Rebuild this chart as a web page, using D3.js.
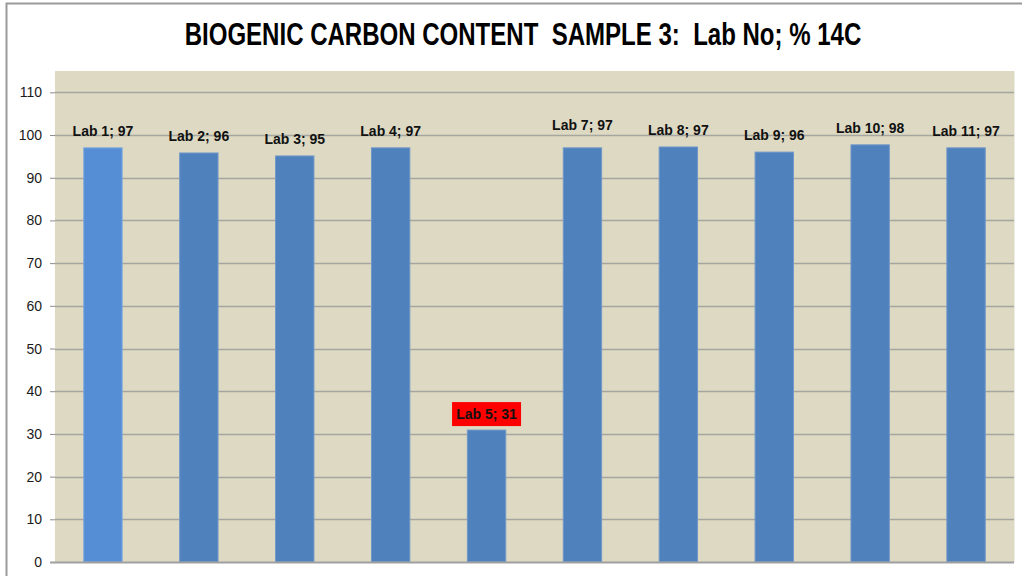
<!DOCTYPE html>
<html>
<head>
<meta charset="utf-8">
<script src="https://cdn.jsdelivr.net/npm/d3@7"></script>
<style>
  html, body { margin: 0; padding: 0; background: #ffffff; }
  svg { display: block; }
</style>
</head>
<body>
<script>
// ---- data ----
const labs = ["Lab 1", "Lab 2", "Lab 3", "Lab 4", "Lab 5", "Lab 7", "Lab 8", "Lab 9", "Lab 10", "Lab 11"];
const values = [97.0, 95.8, 95.1, 97.0, 30.9, 97.0, 97.2, 96.0, 97.7, 97.0];
const yTicks = [0, 10, 20, 30, 40, 50, 60, 70, 80, 90, 100, 110];
const titleText = "BIOGENIC CARBON CONTENT  SAMPLE 3:  Lab No; % 14C";
const outlierLab = "Lab 5";
const highlightLab = "Lab 1";

const W = 1022, H = 576;
const plot = { left: 55, top: 71, right: 1014, bottom: 562 };

const svg = d3.select("body").append("svg").attr("width", W).attr("height", H);

// chart border
svg.append("rect").attr("x", 6.5).attr("y", 3.5).attr("width", W + 20).attr("height", H + 20)
  .attr("fill", "#ffffff").attr("stroke", "#9a9a9a").attr("stroke-width", 2);

// plot background
svg.append("rect").attr("x", plot.left).attr("y", plot.top)
  .attr("width", plot.right - plot.left).attr("height", plot.bottom - plot.top)
  .attr("fill", "#ddd9c3");

const x = d3.scaleBand().domain(labs).range([plot.left, plot.right]).paddingInner(0.6).paddingOuter(0.3);
const y = d3.scaleLinear().domain([0, 115]).range([plot.bottom, plot.top]);

// gridlines
svg.append("g").selectAll("line").data(yTicks.filter(d => d > 0)).join("line")
  .attr("x1", plot.left).attr("x2", plot.right)
  .attr("y1", d => Math.round(y(d)) + 0.5).attr("y2", d => Math.round(y(d)) + 0.5)
  .attr("stroke", "#a6a6a0").attr("stroke-width", 1.3);

// y axis
const yAxis = d3.axisLeft(y).tickValues(yTicks).tickSize(5).tickPadding(8);
const gy = svg.append("g").attr("transform", `translate(${plot.left},0)`).call(yAxis);
gy.select(".domain").remove();
gy.selectAll(".tick line").attr("stroke", "#8c8c8c");
gy.attr("font-size", null).attr("font-family", null);
gy.selectAll(".tick text").attr("font-family", "Arial, 'Liberation Sans', sans-serif")
  .attr("font-size", 14).attr("fill", "#1a1a1a");

// bars
svg.append("g").selectAll("rect").data(labs).join("rect")
  .attr("x", d => x(d)).attr("width", x.bandwidth())
  .attr("y", (d, i) => y(values[i])).attr("height", (d, i) => y(0) - y(values[i]))
  .attr("fill", d => d === highlightLab ? "#558ed5" : "#4f81bd")
  .attr("stroke", d => d === highlightLab ? "#7ba7dd" : "#7097c8").attr("stroke-width", 1);

// baseline (x axis)
svg.append("line").attr("x1", plot.left - 5).attr("x2", plot.right)
  .attr("y1", plot.bottom + 0.5).attr("y2", plot.bottom + 0.5)
  .attr("stroke", "#a0a0a0").attr("stroke-width", 2);

// right edge highlight
svg.append("line").attr("x1", plot.right + 0.5).attr("x2", plot.right + 0.5)
  .attr("y1", plot.top).attr("y2", plot.bottom)
  .attr("stroke", "#ecebe4").attr("stroke-width", 1);

// data labels
const labelFont = "'Liberation Sans Narrow', 'Arial Narrow', Arial, sans-serif";
const lbl = svg.append("g");
labs.forEach((d, i) => {
  const cx = x(d) + x.bandwidth() / 2;
  const text = `${d}; ${Math.round(values[i])}`;
  let ly = y(values[i]) - 12;
  if (d === "Lab 7") ly -= 6;
  if (d === outlierLab) {
    lbl.append("rect").attr("x", cx - 34.5).attr("y", ly - 16).attr("width", 69).attr("height", 24)
      .attr("fill", "#ff0000");
  }
  lbl.append("text").attr("x", cx).attr("y", d === outlierLab ? ly + 1 : ly)
    .attr("text-anchor", "middle")
    .attr("font-family", labelFont).attr("font-weight", "bold").attr("font-size", 14)
    .attr("fill", "#111").text(text);
});

// title: condensed to reference width, keeping double spaces
const titleG = svg.append("g");
const title = titleG.append("text").attr("x", 0).attr("y", 0).attr("text-anchor", "middle")
  .attr("font-family", labelFont).attr("font-weight", "bold").attr("font-size", 32)
  .style("white-space", "pre").attr("xml:space", "preserve")
  .attr("fill", "#000").text(titleText);
const tw = title.node().getComputedTextLength();
const sx = tw > 0 ? Math.min(1, 677 / tw) : 1;
titleG.attr("transform", `translate(523,45) scale(${sx},1)`);
</script>
</body>
</html>
